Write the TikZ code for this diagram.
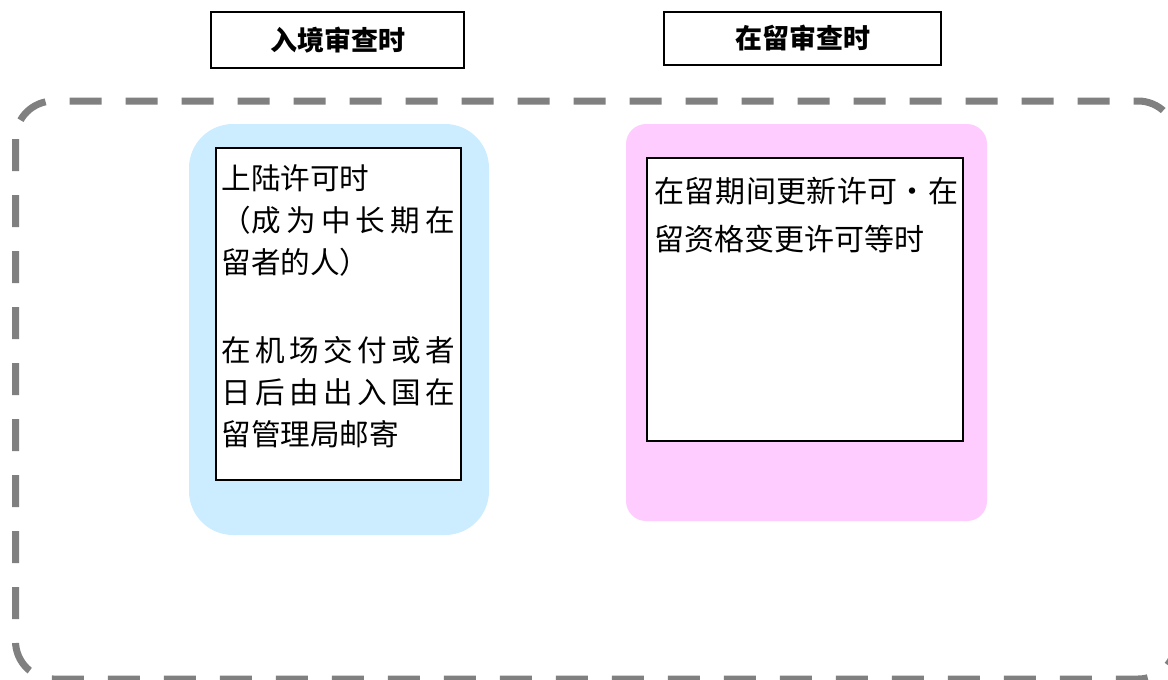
\documentclass[tikz,border=0pt]{standalone}
\usepackage{fontspec}
\setmainfont{Noto Sans CJK SC}
\XeTeXlinebreaklocale "zh"
\XeTeXlinebreakskip = 0pt plus 3pt
\usetikzlibrary{positioning}
\definecolor{panelblue}{HTML}{CCECFF}
\definecolor{panelpink}{HTML}{FFCCFF}
\definecolor{framegray}{HTML}{808080}
\begin{document}
\begin{tikzpicture}[x=0.5pt,y=-0.5pt,
  header/.style={draw, line width=0.8pt, inner sep=0pt,
    font=\bfseries\fontsize{13.5}{16}\selectfont},
  panel/.style={inner sep=0pt},
  card/.style={draw, line width=0.9pt, fill=white, inner sep=0pt},
  cardtext/.style={inner sep=0pt, align=justify}]
  \useasboundingbox (0,0) rectangle (1168,680);
  \draw[framegray, line width=3.5pt, dash pattern=on 16pt off 12pt,
    rounded corners=19pt] (15.5,101) rectangle (1176,679);
  \node[header, minimum width=126.5pt, minimum height=28pt] (entry) at (337.5,40) {入境审查时};
  \node[header, minimum width=138.5pt, minimum height=26.5pt] (stay) at (802.5,38.5) {在留审查时};
  \node[panel, fill=panelblue, rounded corners=22pt,
    minimum width=150pt, minimum height=205.5pt] (entrypanel) at (339,329.5) {};
  \node[panel, fill=panelpink, rounded corners=10pt,
    minimum width=180.5pt, minimum height=198.5pt] (staypanel) at (806.5,322.5) {};
  \node[card, minimum width=122.5pt, minimum height=166pt] (entrycard) at (338.5,314) {};
  \node[card, minimum width=158pt, minimum height=141.5pt] (staycard) at (805,299.5) {};
  \node[cardtext, text width=117pt, font=\fontsize{14.8}{21}\selectfont,
    below right=8.5pt and 3pt of entrycard.north west] (entrytext)
    {上陆许可时\\（成为中长期在留者的人）\\[23pt]在机场交付或者日后由出入国在留管理局邮寄};
  \node[cardtext, text width=152pt, font=\fontsize{15}{24}\selectfont,
    below right=10pt and 4pt of staycard.north west] (staytext)
    {在留期间更新许可・在留资格变更许可等时};
\end{tikzpicture}
\end{document}
